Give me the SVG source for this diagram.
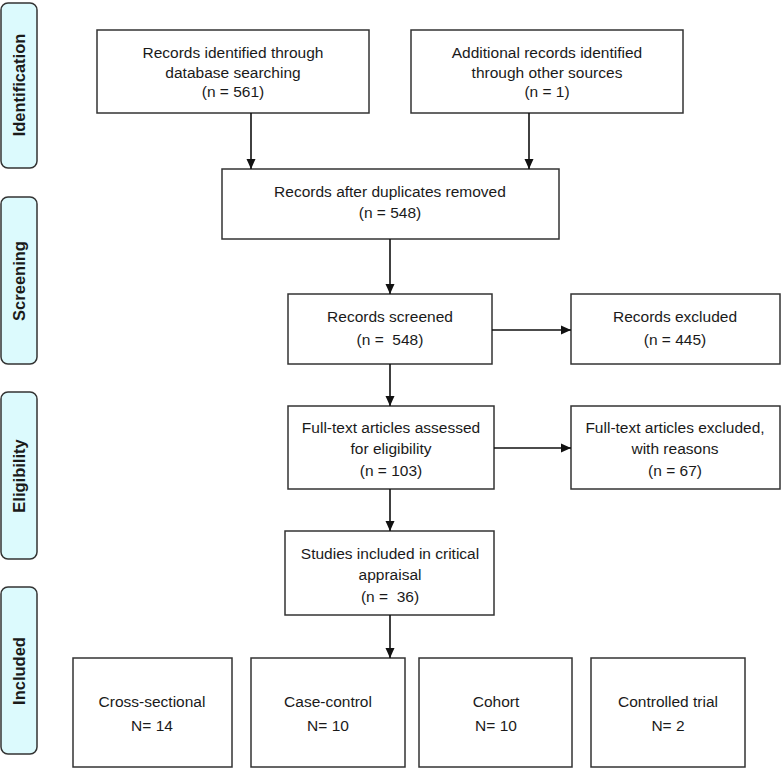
<svg xmlns="http://www.w3.org/2000/svg" width="782" height="770" viewBox="0 0 782 770">
<defs>
<style>
.bg{fill:#ffffff}
.box{fill:#ffffff;stroke:#333333;stroke-width:1.5}
.side{fill:#dcfafd;stroke:#333333;stroke-width:1.5}
.t{font-family:"Liberation Sans",Arial,sans-serif;font-size:15.5px;fill:#1a1a1a;text-anchor:middle}
.st{font-family:"Liberation Sans",Arial,sans-serif;font-size:16.5px;font-weight:bold;fill:#1a1a1a;text-anchor:middle}
.c{stroke:#111111;stroke-width:1.6;fill:none;marker-end:url(#ah)}
</style>
<marker id="ah" viewBox="0 0 10 10" refX="10" refY="5" markerWidth="10" markerHeight="10" markerUnits="userSpaceOnUse" orient="auto">
<path d="M0,0.5 L10,5 L0,9.5 Z" fill="#111111"/>
</marker>
</defs>
<rect class="bg" x="0" y="0" width="782" height="770"/>

<g id="side-identification">
<rect class="side" x="1" y="3" width="36" height="165" rx="7"/>
<text class="st" transform="translate(25,85) rotate(-90)">Identification</text>
</g>
<g id="side-screening">
<rect class="side" x="1" y="197" width="36" height="167" rx="7"/>
<text class="st" transform="translate(25,281) rotate(-90)">Screening</text>
</g>
<g id="side-eligibility">
<rect class="side" x="1" y="392" width="36" height="167" rx="7"/>
<text class="st" transform="translate(25,476) rotate(-90)">Eligibility</text>
</g>
<g id="side-included">
<rect class="side" x="1" y="587" width="36" height="167" rx="7"/>
<text class="st" transform="translate(25,671) rotate(-90)">Included</text>
</g>

<g id="n-database">
<rect class="box" x="97" y="30" width="272" height="83"/>
<text class="t" x="233" y="58">Records identified through</text>
<text class="t" x="233" y="78">database searching</text>
<text class="t" x="233" y="97">(n = 561)</text>
</g>
<g id="n-other">
<rect class="box" x="411" y="30" width="272" height="83"/>
<text class="t" x="547" y="58">Additional records identified</text>
<text class="t" x="547" y="78">through other sources</text>
<text class="t" x="547" y="97">(n = 1)</text>
</g>
<g id="n-dupes">
<rect class="box" x="222" y="169" width="337" height="70"/>
<text class="t" x="390" y="197">Records after duplicates removed</text>
<text class="t" x="390" y="218">(n = 548)</text>
</g>
<g id="n-screened">
<rect class="box" x="288" y="294" width="204" height="70"/>
<text class="t" x="390" y="322">Records screened</text>
<text class="t" x="390" y="345">(n =&#160; 548)</text>
</g>
<g id="n-excluded">
<rect class="box" x="571" y="294" width="209" height="70"/>
<text class="t" x="675" y="322">Records excluded</text>
<text class="t" x="675" y="345">(n = 445)</text>
</g>
<g id="n-fulltext">
<rect class="box" x="288" y="406" width="206" height="83"/>
<text class="t" x="391" y="433">Full-text articles assessed</text>
<text class="t" x="391" y="454">for eligibility</text>
<text class="t" x="391" y="476">(n = 103)</text>
</g>
<g id="n-ftexcluded">
<rect class="box" x="571" y="406" width="209" height="83"/>
<text class="t" x="675" y="433">Full-text articles excluded,</text>
<text class="t" x="675" y="454">with reasons</text>
<text class="t" x="675" y="476">(n = 67)</text>
</g>
<g id="n-studies">
<rect class="box" x="285" y="531" width="209" height="84"/>
<text class="t" x="390" y="559">Studies included in critical</text>
<text class="t" x="390" y="580">appraisal</text>
<text class="t" x="390" y="602">(n =&#160; 36)</text>
</g>
<g id="n-cross">
<rect class="box" x="73" y="658" width="159" height="109"/>
<text class="t" x="152" y="707">Cross-sectional</text>
<text class="t" x="152" y="731">N= 14</text>
</g>
<g id="n-casecontrol">
<rect class="box" x="251" y="658" width="154" height="109"/>
<text class="t" x="328" y="707">Case-control</text>
<text class="t" x="328" y="731">N= 10</text>
</g>
<g id="n-cohort">
<rect class="box" x="419" y="658" width="153" height="109"/>
<text class="t" x="496" y="707">Cohort</text>
<text class="t" x="496" y="731">N= 10</text>
</g>
<g id="n-trial">
<rect class="box" x="591" y="658" width="154" height="109"/>
<text class="t" x="668" y="707">Controlled trial</text>
<text class="t" x="668" y="731">N= 2</text>
</g>

<g id="connectors">
<line class="c" x1="251" y1="113" x2="251" y2="169"/>
<line class="c" x1="529" y1="113" x2="529" y2="169"/>
<line class="c" x1="390" y1="239" x2="390" y2="294"/>
<line class="c" x1="492" y1="330" x2="571" y2="330"/>
<line class="c" x1="390" y1="364" x2="390" y2="406"/>
<line class="c" x1="494" y1="448" x2="571" y2="448"/>
<line class="c" x1="390" y1="489" x2="390" y2="531"/>
<line class="c" x1="390" y1="615" x2="390" y2="658"/>
</g>
</svg>
